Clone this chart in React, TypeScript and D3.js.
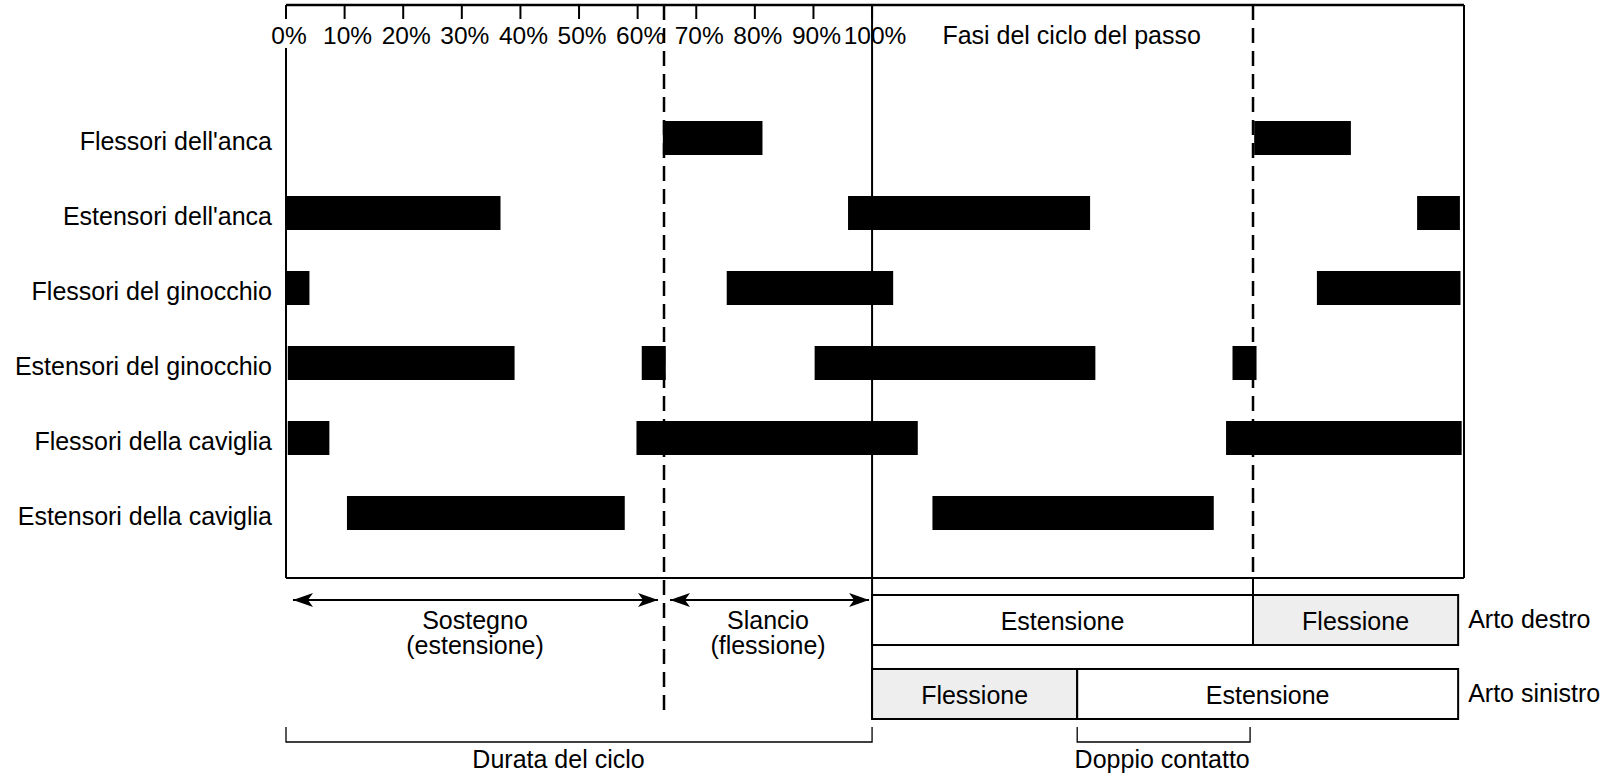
import * as d3 from 'd3';

// muscoli (righe del grafico)
const muscles = [
  "Flessori dell'anca",
  "Estensori dell'anca",
  'Flessori del ginocchio',
  'Estensori del ginocchio',
  'Flessori della caviglia',
  'Estensori della caviglia',
];

// attività muscolare, in % del ciclo del passo (due cicli: 0–200)
const activity = [
  { muscle: "Flessori dell'anca", start: 64.3, end: 81.3 },
  { muscle: "Flessori dell'anca", start: 165.2, end: 181.7 },
  { muscle: "Estensori dell'anca", start: 0, end: 36.6 },
  { muscle: "Estensori dell'anca", start: 95.9, end: 137.2 },
  { muscle: "Estensori dell'anca", start: 193, end: 200.3 },
  { muscle: 'Flessori del ginocchio', start: 0, end: 4 },
  { muscle: 'Flessori del ginocchio', start: 75.2, end: 103.6 },
  { muscle: 'Flessori del ginocchio', start: 175.9, end: 200.4 },
  { muscle: 'Estensori del ginocchio', start: 0.3, end: 39 },
  { muscle: 'Estensori del ginocchio', start: 60.7, end: 64.8 },
  { muscle: 'Estensori del ginocchio', start: 90.2, end: 138.1 },
  { muscle: 'Estensori del ginocchio', start: 161.5, end: 165.6 },
  { muscle: 'Flessori della caviglia', start: 0.3, end: 7.4 },
  { muscle: 'Flessori della caviglia', start: 59.8, end: 107.8 },
  { muscle: 'Flessori della caviglia', start: 160.4, end: 200.6 },
  { muscle: 'Estensori della caviglia', start: 10.4, end: 57.8 },
  { muscle: 'Estensori della caviglia', start: 110.3, end: 158.3 },
];

const cycleTicks = [0, 10, 20, 30, 40, 50, 60, 70, 80, 90, 100];
const toeOff = [64.5, 165];
const cycleEnd = 100;
const domainMax = 201;

// fasi sostegno / slancio (primo ciclo)
const phases = [
  { label: 'Sostegno', sub: '(estensione)', start: 0, end: 64.5 },
  { label: 'Slancio', sub: '(flessione)', start: 64.5, end: 100 },
];

// fasi degli arti (secondo ciclo)
const rightLimb = [
  { label: 'Estensione', start: 100, end: 165, shaded: false },
  { label: 'Flessione', start: 165, end: 200, shaded: true },
];
const leftLimb = [
  { label: 'Flessione', start: 100, end: 135, shaded: true },
  { label: 'Estensione', start: 135, end: 200, shaded: false },
];
const limbNames = ['Arto destro', 'Arto sinistro'];

// parentesi in basso
const brackets = [
  { label: 'Durata del ciclo', start: 0, end: 100, labelAt: 46.5 },
  { label: 'Doppio contatto', start: 135, end: 164.5, labelAt: 149.5 },
];

const W = 1623;
const H = 776;
const FONT = "'Liberation Sans', Arial, Helvetica, sans-serif";
const TOP = 5;
const BOTTOM = 578;
const BAR_H = 34;
const FS = 25;

export default function App() {
  const x = d3.scaleLinear().domain([0, domainMax]).range([286, 1464]);
  const y = d3.scalePoint<string>().domain(muscles).range([138, 513]);
  const limbY = d3.scaleBand<string>().domain(limbNames).range([595, 719]).paddingInner(0.324);
  const limbs = [rightLimb, leftLimb];

  return (
    <svg
      width={W}
      height={H}
      style={{ position: 'absolute', left: 0, top: 0, background: '#fff' }}
      fontFamily={FONT}
    >
      <defs>
        <marker id="ah" viewBox="0 0 20 14" refX="20" refY="7" markerWidth="20" markerHeight="14"
          markerUnits="userSpaceOnUse" orient="auto-start-reverse">
          <path d="M0,0 L20,7 L0,14 L5,7 Z" fill="#000" />
        </marker>
      </defs>

      {/* barre di attività */}
      {activity.map((d, i) => (
        <rect key={i} x={x(d.start)} y={(y(d.muscle) ?? 0) - BAR_H / 2}
          width={x(d.end) - x(d.start)} height={BAR_H} fill="#000" />
      ))}

      {/* cornice */}
      <line x1={x(0)} x2={x(domainMax)} y1={TOP} y2={TOP} stroke="#000" strokeWidth={2.5} />
      <line x1={x(0)} x2={x(domainMax)} y1={BOTTOM} y2={BOTTOM} stroke="#000" strokeWidth={2} />
      <line x1={x(0)} x2={x(0)} y1={48} y2={BOTTOM} stroke="#000" strokeWidth={2} />
      <line x1={x(domainMax)} x2={x(domainMax)} y1={TOP} y2={BOTTOM} stroke="#000" strokeWidth={2} />
      <line x1={x(cycleEnd)} x2={x(cycleEnd)} y1={TOP} y2={limbY('Arto sinistro')! + limbY.bandwidth()}
        stroke="#000" strokeWidth={2} />

      {/* tacche e etichette asse */}
      {cycleTicks.map((t) => (
        <g key={t}>
          <line x1={x(t)} x2={x(t)} y1={TOP} y2={TOP + 14} stroke="#000" strokeWidth={2} />
          <text x={x(t) + 3} y={44} fontSize={24.5} textAnchor="middle">{t}%</text>
        </g>
      ))}
      <text x={x(112)} y={44} fontSize={FS}>Fasi del ciclo del passo</text>

      {/* etichette muscoli */}
      {muscles.map((m) => (
        <text key={m} x={x(0) - 14} y={(y(m) ?? 0) + 12} fontSize={FS} textAnchor="end">{m}</text>
      ))}

      {/* linee tratteggiate (distacco del piede) */}
      <line x1={x(toeOff[0])} x2={x(toeOff[0])} y1={TOP} y2={710} stroke="#000" strokeWidth={2.5}
        strokeDasharray="15 8" />
      <line x1={x(toeOff[1])} x2={x(toeOff[1])} y1={TOP} y2={BOTTOM} stroke="#000" strokeWidth={2.5}
        strokeDasharray="15 8" />
      <line x1={x(toeOff[1])} x2={x(toeOff[1])} y1={BOTTOM} y2={limbY('Arto destro')!} stroke="#000"
        strokeWidth={2} />

      {/* sostegno / slancio */}
      {phases.map((p, i) => (
        <g key={p.label}>
          <line x1={x(p.start) + (i === 0 ? 7 : 6)} x2={x(p.end) - (i === 0 ? 6 : 3)} y1={600} y2={600}
            stroke="#000" strokeWidth={2} markerStart="url(#ah)" markerEnd="url(#ah)" />
          <text x={x((p.start + p.end) / 2)} y={629} fontSize={FS} textAnchor="middle">{p.label}</text>
          <text x={x((p.start + p.end) / 2)} y={654} fontSize={FS} textAnchor="middle">{p.sub}</text>
        </g>
      ))}

      {/* fasi degli arti */}
      {limbs.map((segs, li) => {
        const y0 = limbY(limbNames[li])!;
        const bh = limbY.bandwidth();
        return (
          <g key={limbNames[li]}>
            {segs.map((s) => (
              <g key={s.label}>
                <rect x={x(s.start)} y={y0} width={x(s.end) - x(s.start)} height={bh}
                  fill={s.shaded ? '#eeeeee' : '#fff'} stroke="#000" strokeWidth={2} />
                <text x={x((s.start + s.end) / 2)} y={y0 + bh / 2 + 10} fontSize={FS} textAnchor="middle">
                  {s.label}
                </text>
              </g>
            ))}
            <text x={x(200) + 10} y={y0 + bh / 2 + 8} fontSize={FS}>{limbNames[li]}</text>
          </g>
        );
      })}

      {/* parentesi */}
      {brackets.map((b) => (
        <g key={b.label}>
          <path d={`M${x(b.start)},727 V742 H${x(b.end)} V727`} fill="none" stroke="#000" strokeWidth={1.3} />
          <text x={x(b.labelAt)} y={768} fontSize={FS} textAnchor="middle">{b.label}</text>
        </g>
      ))}
    </svg>
  );
}
